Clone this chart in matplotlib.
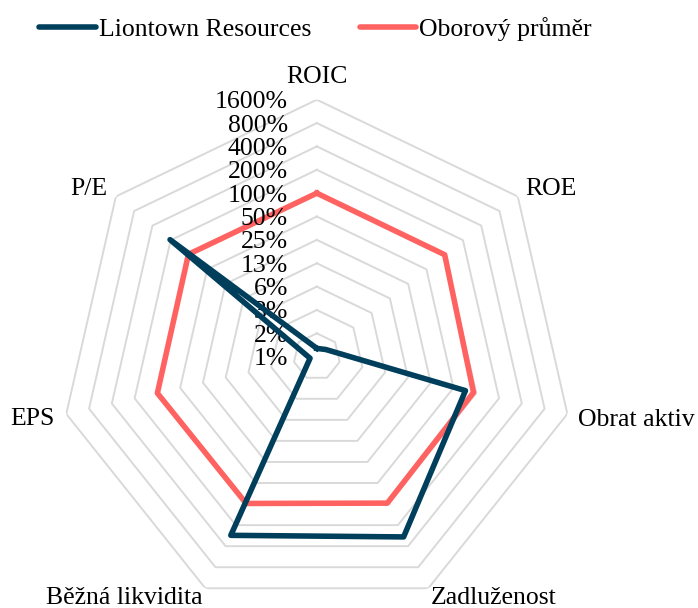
import numpy as np
import matplotlib
matplotlib.use("Agg")
import matplotlib.pyplot as plt
from matplotlib.transforms import offset_copy
from matplotlib.lines import Line2D

plt.rcParams['font.family'] = ['Liberation Serif', 'DejaVu Serif']

categories = ["ROIC", "ROE", "Obrat aktiv", "Zadluženost", "Běžná likvidita", "EPS", "P/E"]
liontown = [1.0, 1.1, 72, 295, 280, 0.96, 205]
industry = [100, 100, 92, 97, 98, 100, 102]

tick_values = [0.78125 * 2 ** k for k in range(12)]
tick_labels = ["1%", "2%", "3%", "6%", "13%", "25%", "50%", "100%", "200%", "400%", "800%", "1600%"]

blue = "#003f5c"
red = "#ff6361"
grid_color = "#d9d9d9"

fig = plt.figure(figsize=(6.98, 6.08), dpi=100)
ax = fig.add_axes([0.0857, -0.0094, 0.7364, 0.8454], projection="polar")
ax.set_theta_offset(np.pi / 2)
ax.set_theta_direction(-1)
ax.set_rscale("log", base=2)
ax.set_rlim(tick_values[0], tick_values[-1])

n = len(categories)
angles = np.linspace(0, 2 * np.pi, n, endpoint=False)
closed = np.append(angles, angles[0])

# heptagon grid rings
for v in tick_values[1:]:
    ax.plot(closed, [v] * (n + 1), color=grid_color, lw=1.4, zorder=1)

ax.plot(closed, industry + industry[:1], color=red, lw=4, zorder=3)
ax.plot(closed, liontown + liontown[:1], color=blue, lw=4, zorder=4,
        solid_joinstyle="round")

ax.set_xticks([])
ax.set_yticks([])
ax.grid(False)
ax.spines["polar"].set_visible(False)
ax.patch.set_alpha(0)

# radial tick labels along the ROIC axis
lab_tr = offset_copy(ax.transData, fig=fig, x=-29, y=0, units="dots")
for v, t in zip(tick_values, tick_labels):
    ax.text(0, v, t, transform=lab_tr, ha="right", va="center_baseline",
            fontsize=18.5, clip_on=False)

# category labels
label_pos = [
    (0, 17, "center"),
    (8, 1.5, "left"),
    (11, -11.6, "left"),
    (2, -16, "left"),
    (-3, -16, "right"),
    (-12, -10.6, "right"),
    (-8, 1.5, "right"),
]
for a, name, (dx, dy, ha) in zip(angles, categories, label_pos):
    tr = offset_copy(ax.transData, fig=fig, x=dx, y=dy, units="dots")
    ax.text(a, tick_values[-1], name, transform=tr, ha=ha, va="baseline",
            fontsize=18.5, clip_on=False)

handles = [Line2D([], [], color=blue, lw=4, solid_capstyle="round"),
           Line2D([], [], color=red, lw=4, solid_capstyle="round")]
fig.legend(handles, ["Liontown Resources", "Oborový průměr"], loc="upper center",
           bbox_to_anchor=(0.452, 1.01), ncol=2, frameon=False, fontsize=18.5,
           handlelength=2.2, handletextpad=0.1, columnspacing=1.9)

fig.savefig("out.png", dpi=100)
